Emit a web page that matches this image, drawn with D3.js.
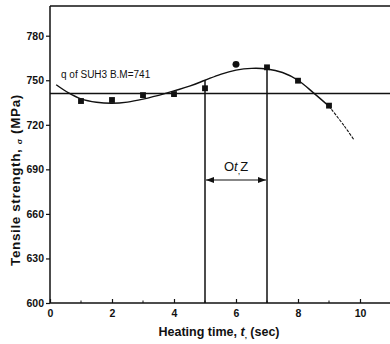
<!DOCTYPE html>
<html><head><meta charset="utf-8">
<script src="https://cdn.jsdelivr.net/npm/d3@7"></script>
<style>
html,body{margin:0;padding:0;background:#fff;}
svg text{font-family:"Liberation Sans",Arial,sans-serif;font-weight:bold;fill:#111;}
</style></head>
<body>
<svg id="c" width="390" height="344"></svg>
<script>
const times = [1,2,3,4,5,6,7,8,9];
const strength = [736,736.7,740,740.7,744.6,760.7,758.7,749.7,732.9];
const markerShapes = ["square","square","square","square","square","circle","square","square","square"];
const curveT = [0.2,0.6,1,1.5,2,2.5,3,3.7,4.5,5,5.5,6,6.5,7,7.5,8,8.5,9,9.5,9.8];
const curveV = [747,741.5,737.5,735.2,734.5,735.3,737.3,741,746,750,754,756.8,758,757.6,755.2,750,741.5,732.5,719,710];
const yTicks = [600,630,660,690,720,750,780];
const xTicks = [0,2,4,6,8,10];
const xMinor = [1,3,5,7,9];
const baseLine = 741;
const spanStart = 5, spanEnd = 7;

const svg = d3.select("#c");
const x = d3.scaleLinear().domain([0,11]).range([50,391]);
const y = d3.scaleLinear().domain([600,800]).range([303,6]);
const ink = "#111";

svg.append("line").attr("x1",50).attr("x2",390).attr("y1",y(800)).attr("y2",y(800)).attr("stroke",ink).attr("stroke-width",1.5);

const ya = svg.append("g").attr("transform","translate(50,0)")
  .call(d3.axisLeft(y).tickValues(yTicks).tickSize(4).tickPadding(2).tickFormat(d=>String(d)));
ya.select(".domain").attr("d",`M0,${y(600)}V${y(800)}`).attr("stroke",ink).attr("stroke-width",1.5);
ya.selectAll(".tick line").attr("stroke",ink).attr("stroke-width",1.2);
ya.selectAll(".tick text").style("font-size","10.5px").style("font-family","'Liberation Sans',Arial,sans-serif").style("font-weight","bold").attr("fill",ink);

const xa = svg.append("g").attr("transform",`translate(0,${y(600)})`)
  .call(d3.axisBottom(x).tickValues(xTicks).tickSize(-4).tickPadding(5).tickFormat(d=>String(d)));
xa.select(".domain").attr("d",`M${x(0)},0H390`).attr("stroke",ink).attr("stroke-width",1.5);
xa.selectAll(".tick line").attr("stroke",ink).attr("stroke-width",1.2);
xa.selectAll(".tick text").style("font-size","10.5px").style("font-family","'Liberation Sans',Arial,sans-serif").style("font-weight","bold").attr("fill",ink).attr("dy","0.85em");
xa.selectAll(".minor").data(xMinor).enter().append("line")
  .attr("x1",d=>x(d)).attr("x2",d=>x(d)).attr("y1",0).attr("y2",-2.5).attr("stroke",ink).attr("stroke-width",1);

svg.append("line").attr("x1",x(0)).attr("x2",390).attr("y1",y(baseLine)).attr("y2",y(baseLine)).attr("stroke",ink).attr("stroke-width",1.5);

const cpts = curveT.map((t,i)=>[t,curveV[i]]);
const line = d3.line().x(d=>x(d[0])).y(d=>y(d[1])).curve(d3.curveCatmullRom);
svg.append("path").attr("d",line(cpts.slice(0,18))).attr("fill","none").attr("stroke",ink).attr("stroke-width",1.4);
svg.append("path").attr("d",line(cpts.slice(17))).attr("fill","none").attr("stroke",ink).attr("stroke-width",1.1).attr("stroke-dasharray","3,1.2");

const cv = t => { for(let i=0;i<curveT.length-1;i++){ if(t>=curveT[i]&&t<=curveT[i+1]){const f=(t-curveT[i])/(curveT[i+1]-curveT[i]);return curveV[i]+f*(curveV[i+1]-curveV[i]);} } return curveV[0]; };
[spanStart,spanEnd].forEach(t=>{
  svg.append("line").attr("x1",x(t)).attr("x2",x(t)).attr("y1",y(600)).attr("y2",y(cv(t))).attr("stroke",ink).attr("stroke-width",1.5);
});

const ay = 180;
svg.append("line").attr("x1",x(spanStart)+1).attr("x2",x(spanEnd)-1).attr("y1",ay).attr("y2",ay).attr("stroke",ink).attr("stroke-width",1.2);
svg.append("path").attr("d",`M${x(spanStart)+1},${ay}l8,-3v6z`).attr("fill",ink);
svg.append("path").attr("d",`M${x(spanEnd)-1},${ay}l-8,-3v6z`).attr("fill",ink);
const at = svg.append("text").attr("x",(x(spanStart)+x(spanEnd))/2).attr("y",ay-9).attr("text-anchor","middle").style("font-size","13px").style("font-weight","normal");
at.append("tspan").text("O");
at.append("tspan").style("font-style","italic").text("t");
at.append("tspan").attr("dy",3).style("font-size","9px").text(",");
at.append("tspan").attr("dy",-3).text("Z");

svg.selectAll(".pt").data(times.map((t,i)=>({t,v:strength[i],s:markerShapes[i]}))).enter()
  .append("path")
  .attr("d",d=>d3.symbol().type(d.s==="circle"?d3.symbolCircle:d3.symbolSquare).size(d.s==="circle"?38:34)())
  .attr("transform",d=>`translate(${x(d.t)},${y(d.v)})`).attr("fill",ink);

svg.append("text").attr("x",61).attr("y",78).style("font-size","10px").style("font-weight","normal").text("q of SUH3 B.M=741");

const xt = svg.append("text").attr("x",219).attr("y",336).attr("text-anchor","middle").style("font-size","12.5px");
xt.append("tspan").text("Heating time, ");
xt.append("tspan").style("font-style","italic").text("t");
xt.append("tspan").attr("dy",2).style("font-size","8px").text(",");
xt.append("tspan").attr("dy",-2).text(" (sec)");

const yt = svg.append("text").attr("transform","translate(20,180) rotate(-90)").attr("text-anchor","middle").style("font-size","13.5px").style("letter-spacing","0.6px");
yt.append("tspan").text("Tensile strength, ");
yt.append("tspan").attr("dy",2).style("font-size","8px").text("σ");
yt.append("tspan").attr("dy",-2).text(" (MPa)");
</script>
</body></html>
